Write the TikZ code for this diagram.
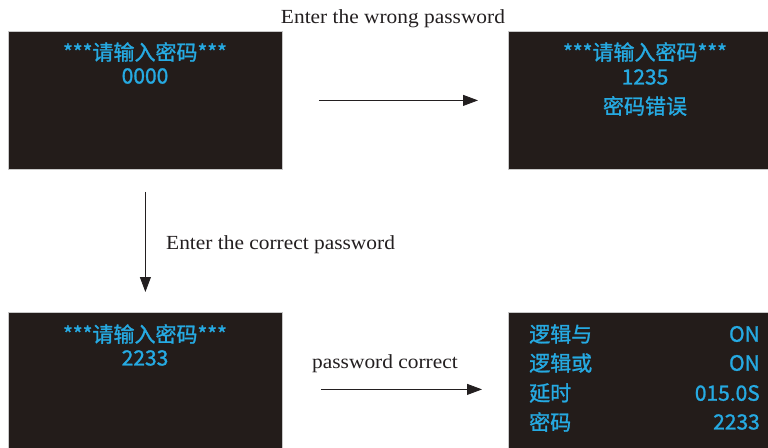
\documentclass[tikz,border=0pt]{standalone}
\usepackage{fontspec}
\setmainfont[FakeStretch=1.07]{Liberation Serif}
\newfontfamily\cjk[FakeBold=1.2]{Noto Sans CJK SC}
\usetikzlibrary{arrows.meta}
\definecolor{screen}{RGB}{35,28,26}
\definecolor{scrtext}{RGB}{38,170,226}
\definecolor{edge}{RGB}{200,200,200}
\definecolor{ink}{RGB}{35,31,32}
\tikzset{
  screenbox/.style={draw=edge, line width=0.8pt, fill=screen, inner sep=0pt, anchor=north west},
  scr/.style={text=scrtext, font=\cjk\fontsize{21}{21}\selectfont, inner sep=0pt},
  lbl/.style={text=ink, font=\fontsize{20}{20}\selectfont, inner sep=0pt},
  arr/.style={draw=ink, line width=0.8pt, -{Triangle[length=15pt,width=11pt]}}
}
\begin{document}
\begin{tikzpicture}[x=1pt,y=-1pt]
\useasboundingbox[fill=white] (0,0) rectangle (768,447);
\node[screenbox, minimum width=274pt, minimum height=138pt] (b1) at (8,31) {};
\node[screenbox, minimum width=262pt, minimum height=138pt] (b2) at (508,31) {};
\node[screenbox, minimum width=274pt, minimum height=137pt] (b3) at (8,312) {};
\node[screenbox, minimum width=262pt, minimum height=137pt] (b4) at (508,312) {};

\node[scr] (t1a) at (145,52) {***请输入密码***};
\node[scr] (t1b) at (145,76) {0000};
\node[scr] (t2a) at (645,52) {***请输入密码***};
\node[scr] (t2b) at (645,77) {1235};
\node[scr] (t2c) at (645,106) {密码错误};
\node[scr] (t3a) at (145,334) {***请输入密码***};
\node[scr] (t3b) at (145,358) {2233};

\node[scr, anchor=west] (r1l) at (529,334) {逻辑与};
\node[scr, anchor=west] (r2l) at (529,363) {逻辑或};
\node[scr, anchor=west] (r3l) at (529,393) {延时};
\node[scr, anchor=west] (r4l) at (529,422) {密码};
\node[scr, anchor=east] (r1v) at (760,334) {ON};
\node[scr, anchor=east] (r2v) at (760,363) {ON};
\node[scr, anchor=east] (r3v) at (760,393) {015.0S};
\node[scr, anchor=east] (r4v) at (760,422) {2233};

\node[lbl] (lw) at (393,19) {Enter the wrong password};
\node[lbl, anchor=west] (lc) at (166,245) {Enter the correct password};
\node[lbl] (lp) at (385,364) {password correct};

\draw[arr, shorten <=36pt, shorten >=30pt] (b1) -- (b2);
\draw[arr, shorten <=22pt, shorten >=20pt] (b1) -- (b3);
\draw[arr, shorten <=38pt, shorten >=26pt] ([yshift=-8.5pt]b3.east) -- ([yshift=-8.5pt]b4.west);
\end{tikzpicture}
\end{document}
